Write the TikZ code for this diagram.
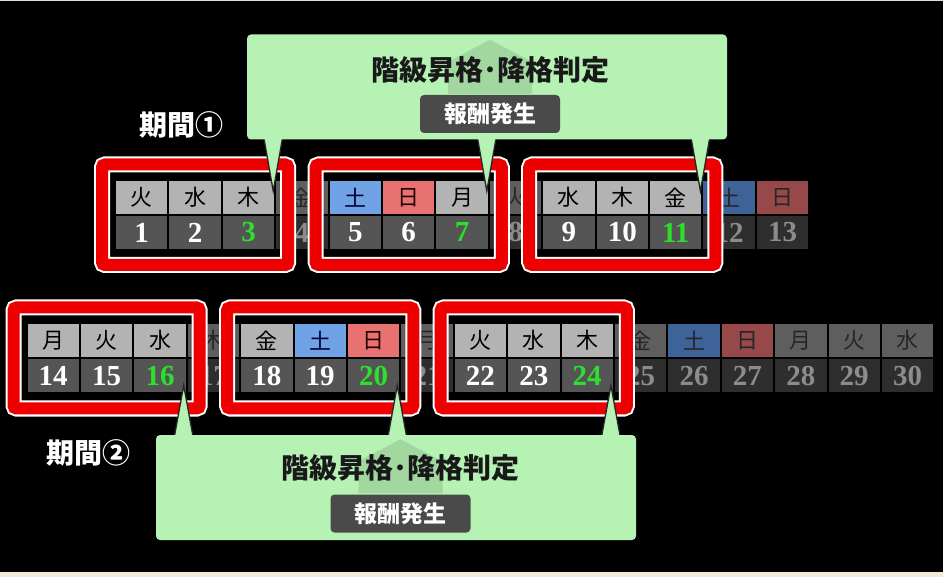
\documentclass[tikz,border=0pt]{standalone}
\usepackage{fontspec}
\setmainfont{Liberation Serif}
\newfontfamily\jp{Noto Sans CJK JP}
\usepackage{tikz}
\usetikzlibrary{calc}
\definecolor{wkday}{HTML}{B3B3B3}
\definecolor{sat}{HTML}{6FA3E6}
\definecolor{sun}{HTML}{E87272}
\definecolor{numcell}{HTML}{555555}
\definecolor{dimday}{HTML}{5E5E5E}
\definecolor{dimsat}{HTML}{3D6398}
\definecolor{dimsun}{HTML}{974848}
\definecolor{dimnum}{HTML}{2E2E2E}
\definecolor{hit}{HTML}{2EE02E}
\definecolor{boxred}{HTML}{EE0000}
\definecolor{leaf}{HTML}{B5F2B3}
\definecolor{arrowtint}{HTML}{A2D8A0}
\definecolor{paygray}{HTML}{4A4A4A}
\definecolor{cream}{HTML}{EFEBD8}
\tikzset{
  cell/.style={draw=black, line width=2pt, minimum width=53.4pt, minimum height=35pt, inner sep=0pt},
  day/.style={cell, font=\jp\fontsize{22}{22}\selectfont},
  hd/.style={day, fill=wkday, text=black},
  hsat/.style={day, fill=sat, text=black!80!blue},
  hsun/.style={day, fill=sun, text=black!85!red},
  hdx/.style={day, fill=dimday, text=black!85},
  hsatx/.style={day, fill=dimsat, text=black!85},
  hsunx/.style={day, fill=dimsun, text=black!85},
  num/.style={cell, font=\bfseries\fontsize{29}{29}\selectfont},
  nb/.style={num, fill=numcell, text=white},
  ng/.style={num, fill=numcell, text=hit},
  nx/.style={num, fill=dimnum, text=black!45!white},
  redframe/.style={draw=white, line width=2pt, double=boxred, double distance=12pt, rounded corners=3pt},
  callout/.style={fill=leaf, rounded corners=4pt, minimum width=480pt, minimum height=105pt},
  tailfill/.style={fill=leaf},
  tailedge/.style={draw=black!85, line width=1.3pt},
  title/.style={text=black!90, font=\jp\bfseries\fontsize{28}{28}\selectfont},
  paybox/.style={fill=paygray, text=white, rounded corners=4pt, minimum width=140pt, minimum height=38pt, inner sep=0pt, font=\jp\bfseries\fontsize{23}{23}\selectfont},
  upshape/.style={fill=arrowtint},
  period/.style={text=white, font=\jp\bfseries\fontsize{28}{28}\selectfont},
}

\begin{document}
\begin{tikzpicture}[x=1pt, y=-1pt]
  \useasboundingbox (0,0) rectangle (943,577);
  \fill[black] (0,0) rectangle (943,577);
  \fill[black!12] (0,0) rectangle (943,1.5);
  \fill[cream] (0,571.5) rectangle (943,577);

  % row 1: days 1-13
  \foreach \d/\w/\hs/\ns [count=\i from 0] in {1/火/hd/nb, 2/水/hd/nb, 3/木/hd/ng, 4/金/hdx/nx, 5/土/hsat/nb, 6/日/hsun/nb, 7/月/hd/ng, 8/火/hdx/nx, 9/水/hd/nb, 10/木/hd/nb, 11/金/hd/ng, 12/土/hsatx/nx, 13/日/hsunx/nx} {
    \node[\hs] (h\d) at (141.7+53.4*\i, 197.5) {\w};
    \node[\ns] (n\d) at (141.7+53.4*\i, 232.5) {\d};
  }
  % row 2: days 14-30
  \foreach \d/\w/\hs/\ns [count=\i from 0] in {14/月/hd/nb, 15/火/hd/nb, 16/水/hd/ng, 17/木/hdx/nx, 18/金/hd/nb, 19/土/hsat/nb, 20/日/hsun/ng, 21/月/hdx/nx, 22/火/hd/nb, 23/水/hd/nb, 24/木/hd/ng, 25/金/hdx/nx, 26/土/hsatx/nx, 27/日/hsunx/nx, 28/月/hdx/nx, 29/火/hdx/nx, 30/水/hdx/nx} {
    \node[\hs] (h\d) at (53.2+53.4*\i, 340.5) {\w};
    \node[\ns] (n\d) at (53.2+53.4*\i, 376) {\d};
  }

  % red frames round each three days
  \foreach \a/\b in {1/3, 5/7, 9/11, 14/16, 18/20, 22/24}
    \draw[redframe] ($(h\a.north west)+(-12,-14.5)$) rectangle ($(n\b.south east)+(12,14)$);

  \node[period] (p1) at (181,125) {期間①};
  \node[period] (p2) at (88,453) {期間②};

  % callout 1
  \node[callout] (judge1) at (487,87) {};
  \foreach \c in {3,7,11} {
    \coordinate (tip) at ($(h\c.north east)+(-3,12)$);
    \fill[tailfill] ($(tip |- judge1.south)+(-9,-1)$) -- (tip) -- ($(tip |- judge1.south)+(9,-1)$) -- cycle;
    \draw[tailedge] ($(tip |- judge1.south)+(-9,0)$) -- (tip) -- ($(tip |- judge1.south)+(9,0)$);
  }
  \node[paybox] (pay1) at (490,114) {報酬発生};
  \fill[upshape] ($(pay1.north)+(-42,-1)$) -- ++(0,-32) -- ($(pay1.north)+(0,-55)$) -- ($(pay1.north)+(42,-33)$) -- ++(0,32) -- cycle;
  \node[title] (title1) at (490,70) {階級昇格･降格判定};

  % callout 2
  \node[callout] (judge2) at (396,487.5) {};
  \foreach \c in {16,20,24} {
    \coordinate (tip) at ($(n\c.south east)+(-4,-9)$);
    \fill[tailfill] ($(tip |- judge2.north)+(-9,1)$) -- (tip) -- ($(tip |- judge2.north)+(9,1)$) -- cycle;
    \draw[tailedge] ($(tip |- judge2.north)+(-9,0)$) -- (tip) -- ($(tip |- judge2.north)+(9,0)$);
  }
  \node[paybox] (pay2) at (400.5,513.5) {報酬発生};
  \fill[upshape] ($(pay2.north)+(-42,-1)$) -- ++(0,-32) -- ($(pay2.north)+(0,-55)$) -- ($(pay2.north)+(42,-33)$) -- ++(0,32) -- cycle;
  \node[title] (title2) at (400.5,468) {階級昇格･降格判定};
\end{tikzpicture}
\end{document}
